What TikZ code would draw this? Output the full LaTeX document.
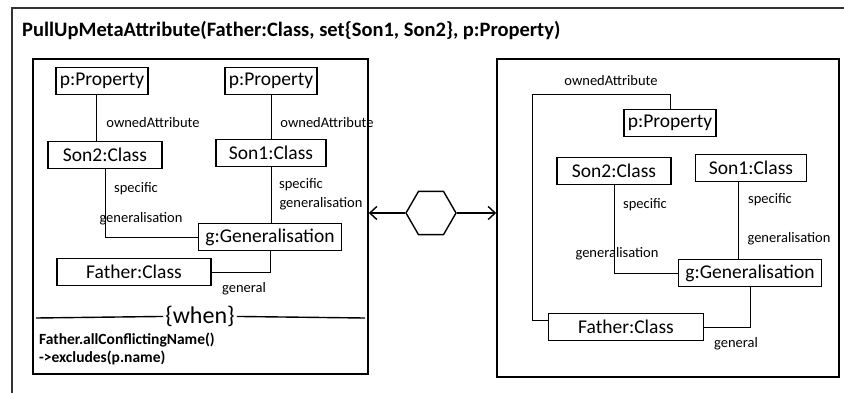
\documentclass[tikz,border=0pt]{standalone}
\usepackage{fontspec}
\setmainfont{Carlito}
\usetikzlibrary{arrows.meta, positioning, shapes.geometric}

\begin{document}
\begin{tikzpicture}[
        x=1pt, y=-1pt,
        obj/.style={rectangle, draw, line width=1.4pt, minimum height=27pt, inner sep=1pt, font=\fontsize{19.5}{21}\selectfont},
        frame/.style={rectangle, draw, line width=1.6pt},
        role/.style={font=\fontsize{14.5}{16}\selectfont, inner sep=0pt},
        cond/.style={font=\bfseries\fontsize{15.5}{17}\selectfont, inner sep=0pt, anchor=west},
        link/.style={draw, line width=0.6pt},
        swap/.style={draw, ->, line width=1.4pt, >={Straight Barb[length=7pt, width=13pt]}}
    ]
        \clip (0,0) rectangle (844,392);
        \draw[line width=1.8pt, black!80] (12,8) rectangle (870,420);
        \node[anchor=west, inner sep=0pt, font=\bfseries\fontsize{20.5}{22}\selectfont] (title) at (22,30) {PullUpMetaAttribute(Father:Class, set\{Son1, Son2\}, p:Property)};

        % left-hand side
        \node[frame, minimum width=335pt, minimum height=315pt] (lhs) at (200.5,216.5) {};
        \node[obj, minimum width=92pt] (propa) at (102,81) {p:Property};
        \node[obj, minimum width=92pt] (propb) at (271,81) {p:Property};
        \node[obj, minimum width=114pt] (sontwol) at (105,155) {Son2:Class};
        \node[obj, minimum width=110pt] (sononel) at (271,153) {Son1:Class};
        \node[obj, minimum width=143pt] (genl) at (270,237) {g:Generalisation};
        \node[obj, minimum width=154pt] (fatherl) at (134,272) {Father:Class};

        \path[link] ([xshift=-6]propa.south) -- ([xshift=-6]propa.south |- sontwol.north);
        \path[link] (propb.south) -- (propb.south |- sononel.north);
        \path[link] (sontwol.south) |- (genl.west);
        \path[link] (sononel.south) -- (sononel.south |- genl.north);
        \path[link] (genl.south) |- (fatherl.east);

        \node[role] (oa) at (153,123) {ownedAttribute};
        \node[role] (ob) at (327,123) {ownedAttribute};
        \node[role] (spa) at (136,189) {specific};
        \node[role] (gea) at (141,219) {generalisation};
        \node[role] (spb) at (301,185) {specific};
        \node[role] (geb) at (321,204) {generalisation};
        \node[role] (gfl) at (244,289) {general};

        \coordinate (wl) at (36,318);
        \coordinate (wr) at (365,318);
        \node[inner sep=2pt, font=\fontsize{24}{26}\selectfont] (when) at (200,316) {\{when\}};
        \draw[line width=1.4pt] (wl) -- (when);
        \draw[line width=1.4pt] (when) -- (wr);
        \node[cond] (ca) at (39,340) {Father.allConflictingName()};
        \node[cond] (cb) at (39,358) {->excludes(p.name)};

        % right-hand side
        \node[frame, minimum width=342pt, minimum height=318pt] (rhs) at (668,218) {};
        \node[obj, minimum width=92pt] (propr) at (670,123) {p:Property};
        \node[obj, minimum width=114pt] (sontwor) at (614,171) {Son2:Class};
        \node[obj, minimum width=111pt] (sononer) at (751,168) {Son1:Class};
        \node[obj, minimum width=143pt] (genr) at (750,273) {g:Generalisation};
        \node[obj, minimum width=155pt] (fatherr) at (626,327) {Father:Class};

        \path[link] (propr.north) |- (532,94) |- ([yshift=7]fatherr.west);
        \path[link] (sontwor.south) |- (genr.west);
        \path[link] ([xshift=-13]sononer.south) -- ([xshift=-13]sononer.south |- genr.north);
        \path[link] (genr.south) |- (fatherr.east);

        \node[role] (or) at (611,81) {ownedAttribute};
        \node[role] (spc) at (645,205) {specific};
        \node[role] (gec) at (617,254) {generalisation};
        \node[role] (spd) at (770,200) {specific};
        \node[role] (ged) at (789,239) {generalisation};
        \node[role] (gfr) at (736,344) {general};

        % rewrite step
        \node[regular polygon, regular polygon sides=6, draw, line width=1.4pt, minimum size=50pt, inner sep=0pt] (hex) at (431,213) {};
        \path[swap] (hex.corner 3) -- (hex.corner 3 -| lhs.east);
        \path[swap] (hex.corner 6) -- (hex.corner 6 -| rhs.west);
    \end{tikzpicture}
\end{document}
